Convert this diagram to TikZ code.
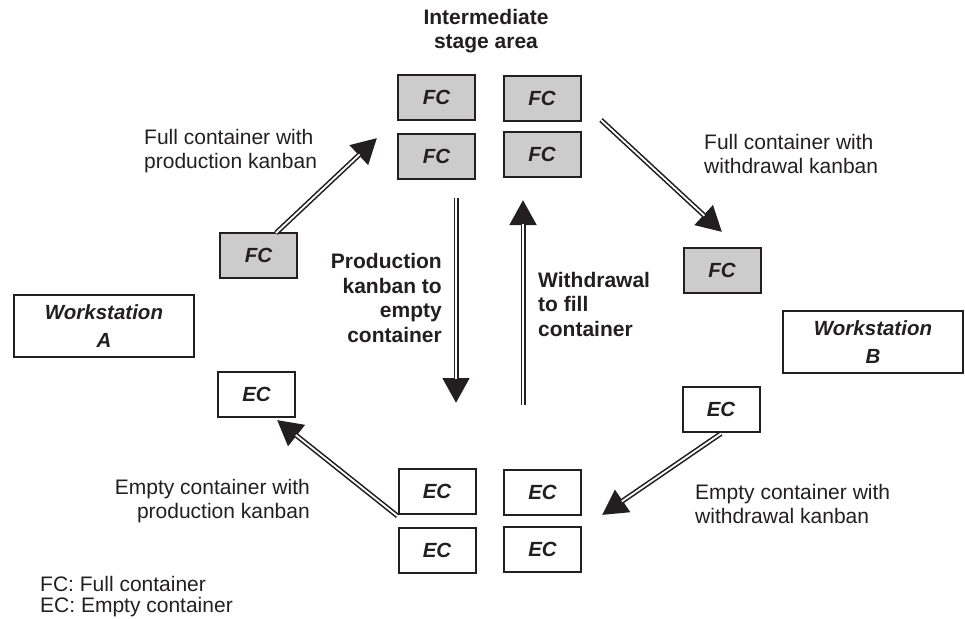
\documentclass[tikz,border=0pt]{standalone}
\usepackage{fontspec}
\setmainfont{Liberation Sans}
\usetikzlibrary{arrows.meta,calc}
\definecolor{ink}{RGB}{35,31,32}
\definecolor{fcfill}{RGB}{204,204,204}

% double-lined flow arrow with a solid triangular head
\newcommand\kanbanflow[2]{%
  \draw[ink, line width=5pt, -{Triangle[length=25pt,width=26pt]}] (#1) -- (#2);
  \draw[white, line width=1.8pt, shorten >=24pt] (#1) -- (#2);}

\begin{document}
\begin{tikzpicture}[x=1pt, y=-1pt,
  container/.style={draw=ink, line width=2pt, minimum width=77pt, minimum height=45pt,
    inner sep=0pt, text=ink, font=\fontsize{20.5}{24}\selectfont\bfseries\itshape},
  full/.style={container, fill=fcfill},
  empty/.style={container, fill=white},
  station/.style={draw=ink, line width=2pt, minimum width=180pt, minimum height=62pt,
    inner sep=0pt, align=center, text=ink, font=\fontsize{20.5}{28}\selectfont\bfseries\itshape},
  note/.style={inner sep=0pt, text=ink, font=\fontsize{21}{24.5}\selectfont},
  heading/.style={inner sep=0pt, text=ink, font=\fontsize{21}{24.5}\selectfont\bfseries}]

\useasboundingbox (0,0) rectangle (965,618);

% intermediate stage area: full containers
\node[full] (fctl) at (436.5,97.5) {FC};
\node[full] (fctr) at (542,98) {FC};
\node[full] (fcbl) at (436.5,156.5) {FC};
\node[full] (fcbr) at (542,154.5) {FC};

% intermediate stage area: empty containers
\node[empty] (ectl) at (437,491.5) {EC};
\node[empty] (ectr) at (542.5,492) {EC};
\node[empty] (ecbl) at (437,550.5) {EC};
\node[empty] (ecbr) at (542.5,549) {EC};

% containers at the workstations
\node[full] (fca) at (258.5,255.5) {FC};
\node[full] (fcb) at (722,270) {FC};
\node[empty] (eca) at (256.5,394.5) {EC};
\node[empty] (ecb) at (721,409) {EC};

% workstations
\node[station] (wsa) at (104,326) {Workstation\\A};
\node[station] (wsb) at (873,342) {Workstation\\B};

% arrow end points
\coordinate (upTip) at (377,138);
\coordinate (toBtail) at (601,120);
\coordinate (toBtip) at (722,232);
\coordinate (toMidtip) at (602,515);
\coordinate (downTail) at (456,198);
\coordinate (downTip) at (456,403);
\coordinate (wdTail) at (523,405);
\coordinate (wdTip) at (523,200);

\kanbanflow{$(fca.north)+(17.5,1)$}{upTip}
\kanbanflow{toBtail}{toBtip}
\kanbanflow{$(ecb.south)+(0,1)$}{toMidtip}
\kanbanflow{$(ectl.south west)+(0,1)$}{$(eca.south)+(20.5,2)$}
\kanbanflow{downTail}{downTip}
\kanbanflow{wdTail}{wdTip}

% labels
\node[heading, align=center] (title) at (486,31) {Intermediate\\stage area};
\node[note, anchor=west, align=left] (lfp) at (144,151) {Full container with\\production kanban};
\node[note, anchor=west, align=left] (lfw) at (704,154) {Full container with\\withdrawal kanban};
\node[note, anchor=east, align=right] (lep) at (310,501) {Empty container with\\production kanban};
\node[note, anchor=west, align=left] (lew) at (695,504) {Empty container with\\withdrawal kanban};
\node[heading, anchor=east, align=right] (lpk) at (442,298) {Production\\kanban to\\empty\\container};
\node[heading, anchor=west, align=left] (lwd) at (538,304) {Withdrawal\\to fill\\container};

% legend
\node[note, anchor=west, align=left, font=\fontsize{21}{21}\selectfont] (legend) at (40,597)
  {FC: Full container\\EC: Empty container};

\end{tikzpicture}
\end{document}
